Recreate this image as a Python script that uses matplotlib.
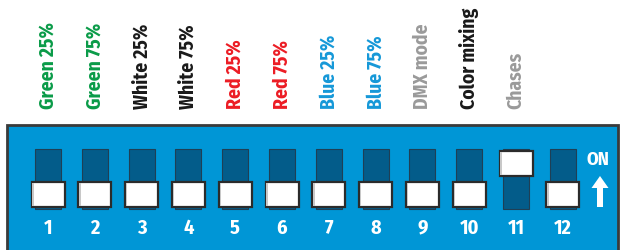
import matplotlib
matplotlib.use("Agg")
import matplotlib.pyplot as plt
from matplotlib.patches import Rectangle, FancyArrow
from matplotlib import font_manager

# ---- data ----
switch_numbers = ["1", "2", "3", "4", "5", "6", "7", "8", "9", "10", "11", "12"]
switch_labels = ["Green 25%", "Green 75%", "White 25%", "White 75%", "Red 25%", "Red 75%",
                 "Blue 25%", "Blue 75%", "DMX mode", "Color mixing", "Chases"]
switch_states = [0, 0, 0, 0, 0, 0, 0, 0, 0, 0, 1, 0]  # 1 = ON
label_kinds = ["green", "green", "black", "black", "red", "red",
               "blue", "blue", "gray", "black", "gray"]

# ---- style ----
kind_colors = {"green": "#0A9B48", "black": "#1a1a1a", "red": "#EC1C24",
               "blue": "#1598D8", "gray": "#9A9A9A"}
board_color = "#0096D6"
slot_color = "#035C8A"
edge_color = "#2b2b2b"

names = {f.name for f in font_manager.fontManager.ttflist}
fam = "DejaVu Sans"
for cand in ["Fira Sans Condensed", "IBM Plex Sans Condensed", "Encode Sans Condensed",
             "Barlow Semi Condensed"]:
    if cand in names:
        fam = cand
        break

W, H = 622, 250
fig = plt.figure(figsize=(W / 100, H / 100), dpi=100)
ax = fig.add_axes([0, 0, 1, 1])
ax.set_xlim(0, W)
ax.set_ylim(H, 0)
ax.axis("off")

# board
ax.add_patch(Rectangle((7, 125), 611, 130, facecolor=board_color,
                       edgecolor="#3a3a3a", linewidth=2, zorder=1))

x0, dx = 48, 46.8
slot_w, slot_top, slot_h = 26, 149, 60
knob_w, knob_h = 33, 25
for i, (num, st) in enumerate(zip(switch_numbers, switch_states)):
    cx = x0 + i * dx
    ax.add_patch(Rectangle((cx - slot_w / 2, slot_top), slot_w, slot_h,
                           facecolor=slot_color, edgecolor="#1f3f55", linewidth=0.8, zorder=2))
    ky = 151 if st else 182
    ax.add_patch(Rectangle((cx - knob_w / 2, ky), knob_w, knob_h,
                           facecolor="white", edgecolor=edge_color, linewidth=1.6, zorder=3))
    ax.add_patch(Rectangle((cx - knob_w / 2 + 0.8, ky + 0.8), 1.5, knob_h - 1.6,
                           facecolor="#c8c8c8", edgecolor="none", zorder=4))
    ax.text(cx, 228, num, color="white", fontsize=14.5, fontweight="bold",
            family=fam, ha="center", va="center", zorder=5)
    if i < len(switch_labels):
        ax.text(cx, 109, switch_labels[i], color=kind_colors[label_kinds[i]],
                fontsize=14, fontweight="bold", family=fam, rotation=90,
                ha="left", va="center", rotation_mode="anchor", zorder=5)

# ON indicator
ax.text(598, 160, "ON", color="white", fontsize=13.5, fontweight="bold",
        family=fam, ha="center", va="center", zorder=5)
ax.add_patch(FancyArrow(600, 207, 0, -31, width=6, head_width=17, head_length=12,
                        length_includes_head=True, facecolor="white", edgecolor="none", zorder=5))

fig.savefig("out.png", dpi=100)
